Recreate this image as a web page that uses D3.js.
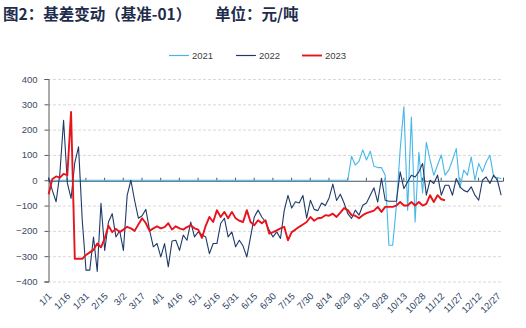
<!DOCTYPE html>
<html><head><meta charset="utf-8">
<script src="https://cdn.jsdelivr.net/npm/d3@7"></script>
<style>body{margin:0;background:#fff;} svg{display:block;}</style>
</head><body><svg id="c" width="526" height="328"></svg>
<script>
// ---- data ----
const title = "图2：基差变动（基准-01）";
const unit = "单位：元/吨";
const tickLabels = ["1/1","1/16","1/31","2/15","3/2","3/17","4/1","4/16","5/1","5/16","5/31","6/15","6/30","7/15","7/30","8/14","8/29","9/13","9/28","10/13","10/28","11/12","11/27","12/12","12/27"];
const tickDays = [0,15,30,45,60,75,90,105,120,135,150,165,180,195,210,225,240,255,270,285,300,315,330,345,360];
const yTicks = [400,300,200,100,0,-100,-200,-300,-400];
const seriesNames = ["2021","2022","2023"];
const stepDays = 3; // one reading every 3 days, from 1/1
const v2021 = [0,0,0,0,0,0,0,0,0,0,0,0,0,0,0,0,0,0,0,0,
  0,0,0,0,0,0,0,0,0,0,0,0,0,0,0,0,0,0,0,0,
  0,0,0,0,0,0,0,0,0,0,0,0,0,0,0,0,0,0,0,0,
  0,0,0,0,0,0,0,0,0,0,0,0,0,0,0,0,0,0,0,0,
  0,95,60,75,120,80,115,55,50,50,20,-257,-257,-99,120,290,-118,250,-165,110,
  -50,150,80,20,60,100,20,40,80,125,-30,40,20,92,0,66,33,72,99,13,10,7];
const v2022 = [10,-40,-85,25,237,-10,-72,70,132,-160,-355,-355,-224,-360,-91,-277,-165,-132,-224,-200,
  -277,-60,0,-80,-150,-140,-115,-198,-263,-250,-303,-250,-342,-240,-237,-277,-217,-237,-165,-224,
  -204,-215,-224,-290,-250,-250,-171,-150,-224,-204,-263,-237,-260,-303,-224,-145,-118,-145,-165,-198,
  -224,-204,-230,-120,-60,-110,-85,-90,-60,-150,-79,-115,-120,-90,-100,-70,-15,-80,-55,-90,
  -132,-151,-118,-138,-99,-90,-59,-30,-86,8,-79,-83,-83,-83,33,-33,-7,20,13,33,
  66,-59,0,-13,20,-59,-20,-20,-59,7,-26,-40,-46,-26,-59,-79,0,13,-13,20,0,-59];
const v2023 = [-55,5,15,10,25,20,270,-310,-310,-310,-295,-285,-275,-250,-265,-230,-180,-205,-192,-205,
  -195,-184,-190,-200,-175,-150,-170,-200,-190,-182,-190,-185,-170,-195,-182,-190,-195,-185,-178,-190,
  -195,-228,-180,-145,-165,-118,-145,-125,-150,-125,-150,-160,-165,-118,-165,-178,-158,-170,-158,-211,
  -205,-198,-190,-184,-237,-205,-195,-184,-175,-165,-145,-160,-150,-148,-138,-140,-132,-145,-128,-110,
  -118,-138,-140,-150,-138,-130,-125,-120,-105,-125,-105,-105,-105,-100,-86,-100,-100,-86,-100,-86,
  -100,-93,-59,-86,-59,-75,-79];
const seriesValues = [v2021, v2022, v2023];
const colors = ["#46B7E8","#1F3A68","#E8141C"];
const widths = [1.1, 1.1, 1.9];

// ---- chart ----
const svg = d3.select("#c");
const x = d3.scaleLinear().domain([0,365]).range([48,503]);
const y = d3.scaleLinear().domain([-400,400]).range([281.5,79]);
const font = "'Liberation Sans', Arial, sans-serif";

svg.append("text").attr("x",3).attr("y",20)
  .attr("font-family","'Noto Sans CJK SC', sans-serif").attr("font-weight","bold")
  .attr("font-size",15.5).attr("fill","#1F2D4D")
  .text(title);
svg.append("text").attr("x",215).attr("y",20)
  .attr("font-family","'Noto Sans CJK SC', sans-serif").attr("font-weight","bold")
  .attr("font-size",15.5).attr("fill","#1F2D4D")
  .text(unit);

// grid
svg.append("g").selectAll("line").data(yTicks.filter(t=>t!==0)).join("line")
  .attr("x1",48).attr("x2",503).attr("y1",d=>y(d)+0.5).attr("y2",d=>y(d)+0.5)
  .attr("stroke","#D9D9D9").attr("stroke-dasharray","3,2").attr("stroke-width",1);

// y axis
const yAxis = d3.axisLeft(y).tickValues(yTicks).tickSize(4).tickPadding(7)
  .tickFormat(d=>d<0?"\u2212"+Math.abs(d):d);
const gy = svg.append("g").attr("transform","translate(48.5,0)").call(yAxis);
gy.select(".domain").attr("stroke","#595959");
gy.selectAll(".tick line").attr("stroke","#595959");
gy.selectAll("text").attr("font-family",font).attr("font-size",9.5).attr("fill","#3C4A63");

// zero axis with day ticks
const xAxis = d3.axisTop(x).tickValues(tickDays.concat([365])).tickSize(3).tickFormat("");
const gx = svg.append("g").attr("transform",`translate(0,${y(0)+0.5})`).call(xAxis);
gx.select(".domain").attr("stroke","#44546A");
gx.selectAll(".tick line").attr("stroke","#44546A");

// x labels at bottom
svg.append("g").selectAll("text").data(tickLabels).join("text")
  .attr("transform",(d,i)=>`translate(${x(tickDays[i])+2},${y(-400)+13}) rotate(-45)`)
  .attr("text-anchor","end").attr("dy","0.35em")
  .attr("font-family",font).attr("font-size",9.5).attr("fill","#2E3F63")
  .text(d=>d);

// series
const line = d3.line().x((d,i)=>x(i*stepDays+0.5)).y(d=>y(d));
seriesValues.forEach((vals,k)=>{
  svg.append("path").datum(vals).attr("d",line)
    .attr("fill","none").attr("stroke",colors[k]).attr("stroke-width",widths[k])
    .attr("stroke-linejoin","round");
});

// legend
const lx = [169,236,302];
const lg = svg.append("g");
seriesNames.forEach((n,k)=>{
  lg.append("line").attr("x1",lx[k]).attr("x2",lx[k]+20).attr("y1",55.5).attr("y2",55.5)
    .attr("stroke",colors[k]).attr("stroke-width",k===2?1.9:1.2);
  lg.append("text").attr("x",lx[k]+23).attr("y",55.5).attr("dy","0.35em")
    .attr("font-family",font).attr("font-size",9.5).attr("fill","#404040").text(n);
});
</script></body></html>
